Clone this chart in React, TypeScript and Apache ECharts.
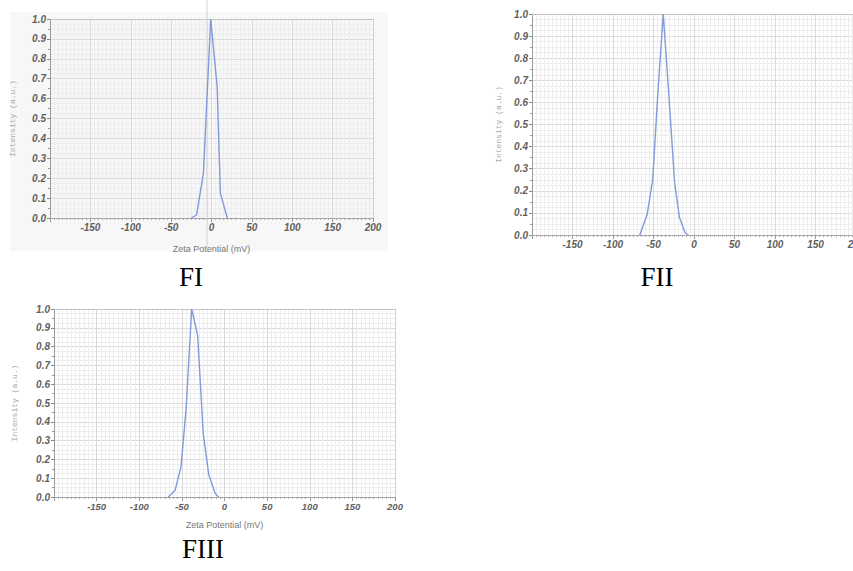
import React, { useEffect, useRef } from "react";
import * as echarts from "echarts";

// Zeta potential (mV) and normalised intensity
const fiX = [-25, -18.5, -10, -1, 7, 11, 19.5];
const fiY = [0, 0.015, 0.225, 1.0, 0.66, 0.125, 0];
const fiiX = [-67, -58, -51, -45, -38, -31, -24, -18, -11, -7];
const fiiY = [0, 0.09, 0.25, 0.62, 1.0, 0.63, 0.24, 0.08, 0.01, 0];
const fiiiX = [-66, -58, -51, -45, -38.5, -31.5, -25, -18.5, -11, -7];
const fiiiY = [0, 0.035, 0.16, 0.47, 1.0, 0.86, 0.34, 0.12, 0.02, 0];

const panelTitles = ["FI", "FII", "FIII"];
const xName = "Zeta Potential (mV)";
const yName = "Intensity (a.u.)";
const xMin = -200;
const xMax = 200;
const xStep = 50;
const yMin = 0;
const yMax = 1;
const yStep = 0.1;

const panels = [
  { x: fiX, y: fiY, left: 50, top: 19, width: 323, height: 199, xName: true, xGap: 26, yGap: 34, xFont: 10, title: { x: 191, y: 277 } },
  { x: fiiX, y: fiiY, left: 532, top: 14, width: 324, height: 221, xName: false, xGap: 26, yGap: 30, xFont: 10, title: { x: 657, y: 277 } },
  { x: fiiiX, y: fiiiY, left: 54, top: 309, width: 341, height: 188, xName: true, xGap: 23, yGap: 36, xFont: 9.5, title: { x: 203, y: 549 } },
];

const LINE = "#819ad9";
const LABEL = "#5f5f5f";

export default function App() {
  const ref = useRef<HTMLDivElement>(null);
  useEffect(() => {
    if (!ref.current) return;
    const chart = echarts.init(ref.current, undefined, { renderer: "svg" });
    const grid: any[] = [];
    const xAxis: any[] = [];
    const yAxis: any[] = [];
    const series: any[] = [];
    const graphic: any[] = [
      { type: "rect", shape: { x: 10, y: 12, width: 378, height: 239 }, style: { fill: "#f7f7f7" }, z: -10 },
    ];
    panels.forEach((p, i) => {
      grid.push({
        left: p.left,
        top: p.top,
        width: p.width,
        height: p.height,
        containLabel: false,
        outerBoundsMode: "none",
      });
      // main x axis (bottom)
      xAxis.push({
        type: "value",
        gridIndex: i,
        position: "bottom",
        min: xMin,
        max: xMax,
        interval: xStep,
        name: p.xName ? xName : "",
        nameLocation: "middle",
        nameGap: p.xGap,
        nameTextStyle: { color: "#777", fontSize: 9, fontFamily: "Liberation Sans" },
        axisLine: { show: true, onZero: false, lineStyle: { color: "#999", type: "dotted", width: 1 } },
        axisTick: { show: true, length: 4, lineStyle: { color: "#999" } },
        minorTick: { show: true, splitNumber: 10, length: 2, lineStyle: { color: "#aaa" } },
        axisLabel: {
          show: true,
          showMinLabel: false,
          hideOverlap: false,
          margin: 4,
          color: LABEL,
          fontSize: p.xFont,
          fontStyle: "italic",
          fontWeight: "bold",
          fontFamily: "Liberation Sans",
        },
        splitLine: { show: false },
      });
      // frame / grid x axis (top)
      xAxis.push({
        type: "value",
        gridIndex: i,
        position: "top",
        min: xMin,
        max: xMax,
        interval: xStep,
        axisLine: { show: true, onZero: false, lineStyle: { color: "#c4c4c4" } },
        axisTick: { show: false },
        axisLabel: { show: false },
        minorTick: { show: false, splitNumber: 10 },
        splitLine: { show: true, lineStyle: { color: "#dadada", width: 1 } },
        minorSplitLine: { show: true, lineStyle: { color: "#ededed", width: 1 } },
      });
      // main y axis (left)
      yAxis.push({
        type: "value",
        gridIndex: i,
        position: "left",
        min: yMin,
        max: yMax,
        interval: yStep,
        name: yName,
        nameLocation: "middle",
        nameGap: p.yGap,
        nameTextStyle: { color: "#a5a5a5", fontSize: 8, fontFamily: "Liberation Mono" },
        axisLine: { show: true, onZero: false, lineStyle: { color: "#9a9a9a" } },
        axisTick: { show: true, length: 3, lineStyle: { color: "#888" } },
        minorTick: { show: true, splitNumber: 2, length: 2, lineStyle: { color: "#999" } },
        axisLabel: {
          margin: 4,
          color: LABEL,
          fontSize: 10,
          fontStyle: "italic",
          fontWeight: "bold",
          fontFamily: "Liberation Sans",
          formatter: (v: number) => v.toFixed(1),
        },
        splitLine: { show: false },
      });
      // frame / grid y axis (right)
      yAxis.push({
        type: "value",
        gridIndex: i,
        position: "right",
        min: yMin,
        max: yMax,
        interval: yStep,
        axisLine: { show: true, onZero: false, lineStyle: { color: "#d0d0d0" } },
        axisTick: { show: false },
        axisLabel: { show: false },
        minorTick: { show: false, splitNumber: 4 },
        splitLine: { show: true, lineStyle: { color: "#dadada", width: 1 } },
        minorSplitLine: { show: true, lineStyle: { color: "#ededed", width: 1 } },
      });
      series.push({
        type: "line",
        xAxisIndex: 2 * i,
        yAxisIndex: 2 * i,
        data: p.x.map((v, k) => [v, p.y[k]]),
        showSymbol: false,
        symbol: "none",
        lineStyle: { color: LINE, width: 1.4 },
        z: 5,
      });
      graphic.push({
        type: "text",
        x: p.title.x,
        y: p.title.y,
        style: {
          text: panelTitles[i],
          fill: "#000",
          font: "27px 'Liberation Serif'",
          align: "center",
          verticalAlign: "middle",
        },
      });
    });
    // scanning fold line across FI
    graphic.push({
      type: "line",
      shape: { x1: 207, y1: 0, x2: 207, y2: 250 },
      style: { stroke: "#d2d2d2", lineWidth: 1 },
      z: 1,
    });
    chart.setOption({
      animation: false,
      backgroundColor: "#ffffff",
      grid,
      xAxis,
      yAxis,
      series,
      graphic,
    });
    return () => chart.dispose();
  }, []);
  return (
    <div
      ref={ref}
      style={{ position: "fixed", left: 0, top: 0, width: 853, height: 571, background: "#fff" }}
    />
  );
}
